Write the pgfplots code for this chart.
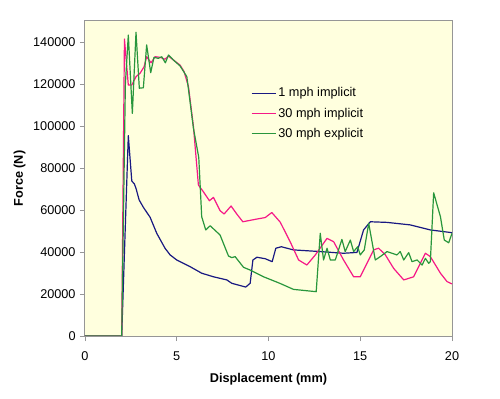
\documentclass[border=0pt]{standalone}
\usepackage{pgfplots}
\pgfplotsset{compat=1.18}
\usepackage{fontspec}
\setmainfont{Liberation Sans}
\definecolor{bgc}{RGB}{255,255,222}
\definecolor{lineblue}{RGB}{25,25,130}
\definecolor{linepink}{RGB}{245,25,135}
\definecolor{linegreen}{RGB}{40,150,60}
\definecolor{frm}{RGB}{150,150,150}
\begin{document}
\fontsize{12.7bp}{15bp}\selectfont
\begin{tikzpicture}
\path[use as bounding box] (-85bp,-63bp) rectangle (415bp,336bp);
\begin{axis}[
  at={(0,0)}, anchor=south west,
  scale only axis, width=367bp, height=315bp,
  xmin=0, xmax=20, ymin=0, ymax=150000,
  xtick={0,5,10,15,20}, ytick={0,20000,40000,60000,80000,100000,120000,140000},
  scaled y ticks=false,
  /pgf/number format/assume math mode=true,
  yticklabel style={/pgf/number format/fixed, /pgf/number format/1000 sep={}, font=\fontsize{12.7bp}{15bp}\selectfont},
  xticklabel style={font=\fontsize{12.7bp}{15bp}\selectfont},
  xticklabel shift=6bp,
  tick align=outside, tick pos=left,
  major tick length=5bp,
  tick style={frm, line width=0.8bp},
  axis line style={frm, line width=1bp},
  axis background/.style={fill=bgc},
  xlabel={\textbf{Displacement (mm)}},
  ylabel={\textbf{Force (N)}},
  label style={font=\fontsize{12.7bp}{15bp}\selectfont},
  xlabel style={yshift=-4bp},
  ylabel style={yshift=-1bp},
  legend cell align=left,
  legend style={at={(0.452,0.795)}, anchor=north west, inner sep=0pt, draw=bgc, fill=bgc,
    text=black, row sep=5bp, font=\fontsize{12.7bp}{15bp}\selectfont},
]
\addplot[forget plot, color=lineblue, line width=1.2bp, line join=round] coordinates {
(0,0) (2.0,0) (2.36,95400) (2.55,73800) (2.69,72400) (2.78,70300) (2.95,64800) (3.18,61300)
(3.55,56500) (3.91,48900) (4.36,41800) (4.64,38600) (5.0,36200) (5.73,33000) (6.36,29900)
(7.0,28200) (7.73,26700) (8.0,25100) (8.76,23300) (9.0,25100) (9.15,36200) (9.37,37500)
(9.82,36800) (10.2,35400) (10.4,41800) (10.7,42500) (11.36,41000) (12.82,40200) (14.09,39400)
(14.82,39800) (15.18,50500) (15.55,54400) (16.46,54100) (17.73,52900) (18.82,50500) (20,49200)
};
\addplot[forget plot, color=linepink, line width=1.2bp, line join=round] coordinates {
(0,0) (2.0,0) (2.15,141400) (2.36,119500) (2.55,119500) (2.78,123500) (3.0,125100) (3.22,128200)
(3.36,133000) (3.6,130100) (3.82,133000) (4.09,132700) (4.36,131800) (4.55,133300) (4.82,131400)
(5.18,129000) (5.4,125900) (5.64,118700) (5.91,99700) (6.18,71900) (6.45,68700) (6.78,64400)
(7.0,66000) (7.36,59700) (7.58,58100) (7.96,61900) (8.27,58100) (8.6,54400) (9.37,55700)
(9.82,56400) (10.18,58800) (10.64,54200) (11.18,44900) (11.64,36200) (12.09,33800) (12.55,38600)
(13.19,46500) (13.55,44900) (14.09,36200) (14.64,28200) (15.0,28200) (15.73,41000) (16.0,41800)
(16.37,38600) (16.82,32200) (17.37,26700) (17.91,28200) (18.55,39400) (18.82,37800) (19.37,29900)
(19.73,25900) (20,24800)
};
\addplot[forget plot, color=linegreen, line width=1.2bp, line join=round] coordinates {
(0,0) (2.0,0) (2.2,120000) (2.36,143300) (2.58,106000) (2.78,144600) (2.96,118000) (3.18,118200)
(3.36,138600) (3.58,125400) (3.76,132700) (4.0,132200) (4.18,133000) (4.38,130100) (4.55,133800)
(4.82,131400) (5.18,128600) (5.55,123500) (5.91,98900) (6.2,85000) (6.36,56800) (6.58,50500)
(6.82,52500) (7.36,48100) (7.82,38100) (8.0,37300) (8.18,37800) (8.64,32700) (9.0,31400)
(9.73,28200) (10.64,25000) (11.36,22200) (12.6,21100) (12.82,48900) (13.0,36200) (13.19,41800)
(13.37,36200) (13.64,36200) (14.0,46000) (14.18,40200) (14.46,45700) (14.64,40200) (14.86,42500)
(15.0,38600) (15.22,41000) (15.46,53700) (15.82,36200) (16.09,37800) (16.46,40200) (17.0,38600)
(17.18,40200) (17.37,36200) (17.64,39700) (17.82,35400) (18.1,36200) (18.37,33800) (18.55,37000)
(18.73,34600) (18.82,35400) (19.0,68200) (19.37,56800) (19.58,45700) (19.82,44400) (20,48900)
};
\addlegendimage{legend image code/.code={\color{lineblue}\draw[draw=lineblue, line width=1.3bp] (0bp,0bp) -- (24bp,0bp);}}
\addlegendentry{1 mph implicit}
\addlegendimage{legend image code/.code={\color{linepink}\draw[draw=linepink, line width=1.3bp] (0bp,0bp) -- (24bp,0bp);}}
\addlegendentry{30 mph implicit}
\addlegendimage{legend image code/.code={\color{linegreen}\draw[draw=linegreen, line width=1.3bp] (0bp,0bp) -- (24bp,0bp);}}
\addlegendentry{30 mph explicit}
\end{axis}
\end{tikzpicture}
\end{document}
